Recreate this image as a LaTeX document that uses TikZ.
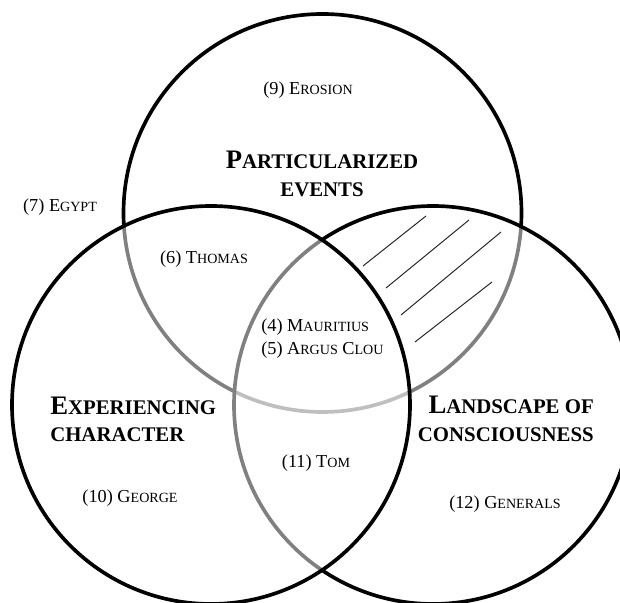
\documentclass[tikz,border=0pt]{standalone}
\usepackage{fontspec}
\setmainfont{Liberation Serif}
\usetikzlibrary{positioning}

% small capitals built by hand: full capital, then reduced capitals
\newcommand{\lsc}[2]{#1{\fontsize{10}{12}\selectfont\MakeUppercase{#2}}}
\newcommand{\hsc}[2]{#1{\fontsize{14.8}{18}\selectfont\MakeUppercase{#2}}}

\tikzset{
  every node/.style={font=\fontsize{13}{16.4}\selectfont,inner sep=0pt},
  heading/.style={font=\bfseries\fontsize{19}{19.6}\selectfont},
  member/.style={align=center},
  ring/.style={draw=black,line width=2.6pt},
  veil/.style={fill=white,fill opacity=0.5},
  hatchline/.style={draw=black!85,line width=0.7pt}
}

\begin{document}
\begin{tikzpicture}
  \useasboundingbox (0,0) rectangle (15.5,15.075);
  \clip (0,0) rectangle (15.5,15.075);

  % Centres of the three sets.
  \coordinate (events) at (8.0625,9.75);
  \coordinate (landscape) at (10.825,4.95);
  \coordinate (character) at (5.275,4.95);

  % Drawing order matters: each later set half hides the rings below it.
  \draw[ring] (events) circle (4.975);
  \draw[ring,veil] (landscape) circle (4.975);
  \draw[ring,veil] (character) circle (4.975);

  % Hatched part of events and landscape only.
  \foreach \a/\b in {{9.075,8.425}/{10.65,9.675},
                     {9.65,7.875}/{11.725,9.575},
                     {10.025,7.2}/{12.525,9.275},
                     {10.375,6.525}/{12.30,8.025}}
    \draw[hatchline] (\a) -- (\b);

  % Set titles.
  \node[heading,align=center] (events-title) at (8.05,10.725)
    {\hsc{P}{articularized}\\\hsc{}{events}};
  \node[heading,align=left,anchor=west] (character-title) at (1.25,4.5875)
    {\hsc{E}{xperiencing}\\\hsc{}{character}};
  \node[heading,align=right,anchor=east] (landscape-title) at (14.85,4.60)
    {\hsc{L}{andscape of}\\\hsc{}{consciousness}};

  % Members, by region.
  \node[member] (erosion) at (7.70,12.825) {(9) \lsc{E}{rosion}};
  \node[member] (egypt) at (1.50,9.90) {(7) \lsc{E}{gypt}};
  \node[member] (thomas) at (5.10,8.60) {(6) \lsc{T}{homas}};
  \node[align=left,anchor=west] (middle) at (6.525,6.6125)
    {(4) \lsc{M}{auritius}\\(5) \lsc{A}{rgus} \lsc{C}{lou}};
  \node[member] (tom) at (7.90,3.50) {(11) \lsc{T}{om}};
  \node[member] (george) at (3.25,2.625) {(10) \lsc{G}{eorge}};
  \node[member] (generals) at (12.625,2.475) {(12) \lsc{G}{enerals}};
\end{tikzpicture}
\end{document}
